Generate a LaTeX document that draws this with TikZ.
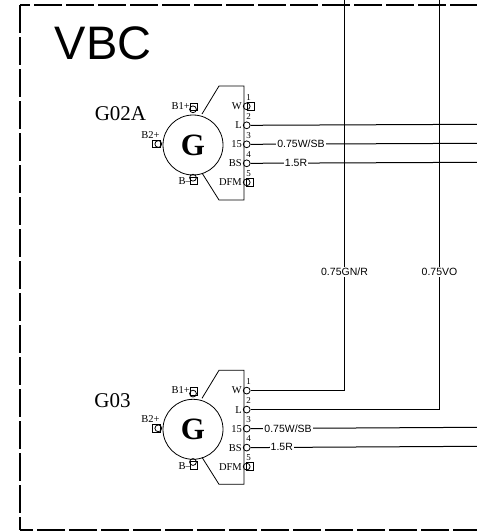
\documentclass[tikz,border=0pt]{standalone}
\usepackage{fontspec}
\setmainfont{Liberation Serif}
\setsansfont{Liberation Sans}
\usepackage{tikz}

\tikzset{
    framedash/.style={line width=1.3pt, dash pattern=on 28pt off 4pt},
    wire/.style={line width=1pt},
    wirelabel/.style={fill=white, inner sep=1pt, font=\sffamily\fontsize{10.5}{12}\selectfont},
    pinlabel/.style={inner sep=0pt, font=\fontsize{10.5}{12}\selectfont},
    pinnumber/.style={inner sep=0pt, font=\fontsize{9}{10}\selectfont},
    pinring/.style={circle, draw, inner sep=0pt, minimum size=6.8pt, line width=0.8pt},
    pinbox/.style={draw, inner sep=0pt, minimum width=7.5pt, minimum height=7.5pt, line width=0.8pt},
    genbody/.pic={
        \draw[line width=0.8pt] (9,-31) -- (26,-59) -- (51,-59) -- (51,55) -- (26,55) -- (9,28);
        \node[circle, draw, inner sep=0pt, minimum size=60pt, line width=0.8pt,
            font=\bfseries\fontsize{31}{31}\selectfont] (-gen) at (0,0) {G};
        \foreach \pinname/\pintext/\pinnum [count=\i from 0] in {w/W/1,l/L/2,f/15/3,bs/BS/4,dfm/DFM/5} {
            \node[pinring] (-\pinname) at (53.7,-38.7+19*\i) {};
            \node[pinlabel, anchor=east] at (49,-38.7+19*\i) {\pintext};
            \node[pinnumber] at (55.5,-47.9+19*\i) {\pinnum};
        }
        \node[pinbox] at (57,37.3) {};
        \node[pinbox] (-bone) at (1,-38) {};
        \node[pinring] at (0,-35.7) {};
        \node[pinbox] (-btwo) at (-36.5,-1) {};
        \node[pinring] at (-34.7,-1) {};
        \node[pinbox] (-bminus) at (1,36) {};
        \node[pinring] at (0,32.7) {};
        \node[pinlabel, anchor=east] at (-3,-39) {B1+};
        \node[pinlabel] at (-42.5,-10) {B2+};
        \node[pinlabel, anchor=east] at (-2,36.5) {B--};
    }
}

\begin{document}
\begin{tikzpicture}[x=1pt, y=-1pt]
    \useasboundingbox (0,0) rectangle (477,531);
    % frame
    \draw[framedash, dash phase=18pt] (20,5) -- (477,5);
    \draw[framedash] (20,5) -- (20,530);
    \draw[framedash, dash phase=15pt] (20,530) -- (477,530);
    \coordinate (topa) at (344.5,0);
    \coordinate (topb) at (439.5,0);
    \coordinate (enda) at (477,124.3);
    \coordinate (endb) at (477,143.3);
    \coordinate (endc) at (477,162.3);
    \coordinate (endd) at (477,427.3);
    \coordinate (ende) at (477,446.3);
    \node[font=\sffamily\fontsize{47}{47}\selectfont, inner sep=0pt] (title) at (103,43) {VBC};
    \node[font=\fontsize{21}{22}\selectfont, inner sep=0pt] (ganame) at (120.5,114) {G02A};
    \node[font=\fontsize{21}{22}\selectfont, inner sep=0pt] (gbname) at (112.5,401) {G03};
    % alternators
    \pic (ga) at (193,145) {genbody};
    \pic (gb) at (193,429.3) {genbody};
    \node[pinbox] at (250.7,106.3) {};
    % wires
    \draw[wire] (ga-l.east) -- (enda);
    \draw[wire] (ga-f.east) -- (endb) node[wirelabel, pos=0.223] {0.75W/SB};
    \draw[wire] (ga-bs.east) -- (endc) node[wirelabel, pos=0.201] {1.5R};
    \draw[wire] (gb-w.east) -| (topa) node[wirelabel, pos=0.652] {0.75GN/R};
    \draw[wire] (gb-l.east) -| (topb) node[wirelabel, pos=0.668] {0.75VO};
    \draw[wire] (gb-f.east) -- (endd) node[wirelabel, pos=0.166] {0.75W/SB};
    \draw[wire] (gb-bs.east) -- (ende) node[wirelabel, pos=0.138] {1.5R};
\end{tikzpicture}
\end{document}
